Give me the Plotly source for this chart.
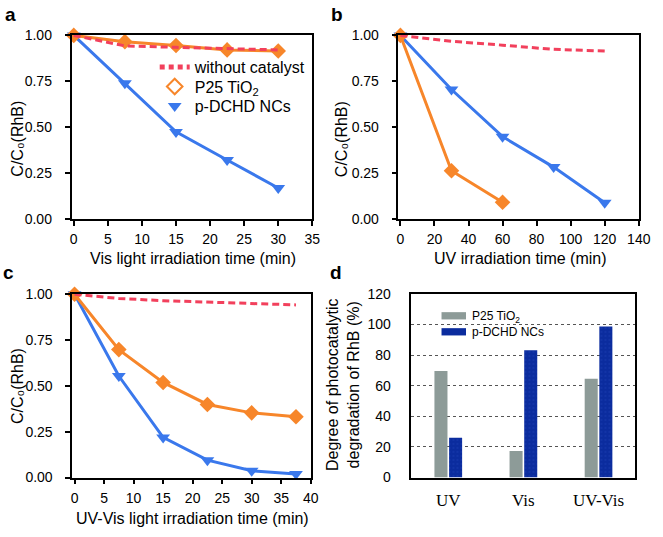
import plotly.graph_objects as go

W, H = 663, 537

# ---------------- data ----------------
t_a = [0, 7.5, 15, 22.5, 30]
a_blank = [1.0, 0.943, 0.935, 0.926, 0.921]
a_p25 = [1.0, 0.966, 0.945, 0.921, 0.915]
a_dchd = [1.0, 0.739, 0.474, 0.321, 0.168]

t_b = [0, 30, 60, 90, 120]
b_blank = [1.0, 0.968, 0.947, 0.924, 0.915]
t_b_p25 = [0, 30, 60]
b_p25 = [1.0, 0.262, 0.09]
b_dchd = [1.0, 0.705, 0.448, 0.282, 0.088]

t_c = [0, 7.5, 15, 22.5, 30, 37.5]
c_blank = [1.0, 0.977, 0.965, 0.956, 0.947, 0.942]
c_p25 = [1.0, 0.698, 0.519, 0.399, 0.353, 0.332]
c_dchd = [1.0, 0.554, 0.219, 0.095, 0.037, 0.019]

d_cats = ["UV", "Vis", "UV-Vis"]
d_p25 = [69.7, 17.3, 64.6]
d_dchd = [26.0, 83.2, 98.7]

# ---------------- styles ----------------
RED = "#f2405c"
ORANGE = "#f7862a"
BLUE = "#3a78ec"
GRAY = "#8d9b98"
NAVY = "#0b2c9e"
FONT = "Liberation Sans, Arial, sans-serif"

def px_x(p):
    return p / W

def px_y(p):
    return 1 - p / H

fig = go.Figure()

def add_lines(t_blank, blank, t_p, p25, t_d, dchd, xa, ya):
    fig.add_trace(go.Scatter(x=t_d, y=dchd, mode="lines+markers", xaxis=xa, yaxis=ya,
                             line=dict(color=BLUE, width=3),
                             marker=dict(symbol="triangle-down", size=12, color=BLUE),
                             showlegend=False, cliponaxis=False))
    fig.add_trace(go.Scatter(x=t_p, y=p25, mode="lines+markers", xaxis=xa, yaxis=ya,
                             line=dict(color=ORANGE, width=3),
                             marker=dict(symbol="diamond", size=12, color=ORANGE),
                             showlegend=False, cliponaxis=False))
    fig.add_trace(go.Scatter(x=t_blank, y=blank, mode="lines", xaxis=xa, yaxis=ya,
                             line=dict(color=RED, width=3, dash="7px,4px"),
                             showlegend=False, cliponaxis=False))

add_lines(t_a, a_blank, t_a, a_p25, t_a, a_dchd, "x", "y")
add_lines(t_b, b_blank, t_b_p25, b_p25, t_b, b_dchd, "x2", "y2")
add_lines(t_c, c_blank, t_c, c_p25, t_c, c_dchd, "x3", "y3")

# legend entries for panel a (one legend per entry for exact row spacing)
fig.add_trace(go.Scatter(x=[None], y=[None], mode="lines", name="without catalyst",
                         line=dict(color=RED, width=3, dash="5px,4px"), legend="legend"))
fig.add_trace(go.Scatter(x=[None], y=[None], mode="markers", name="P25 TiO<sub>2</sub>",
                         marker=dict(symbol="diamond-open", size=13, color=ORANGE,
                                     line=dict(width=3, color=ORANGE)), legend="legend2"))
fig.add_trace(go.Scatter(x=[None], y=[None], mode="markers", name="p-DCHD NCs",
                         marker=dict(symbol="triangle-down", size=13, color=BLUE), legend="legend3"))

# bars panel d
fig.add_trace(go.Bar(x=d_cats, y=d_p25, name="P25 TiO<sub>2</sub>", xaxis="x4", yaxis="y4",
                     marker=dict(color=GRAY, line=dict(width=0)), showlegend=False))
fig.add_trace(go.Bar(x=d_cats, y=d_dchd, name="p-DCHD NCs", xaxis="x4", yaxis="y4",
                     marker=dict(color=NAVY, line=dict(width=0),
                                 pattern=dict(shape=".", fgcolor="#2c52c8", size=4, solidity=0.12)),
                     showlegend=False))

axis_common = dict(showline=True, linecolor="black", linewidth=1.5, mirror=True,
                   ticks="outside", ticklen=5, tickwidth=1.5, tickcolor="black",
                   showgrid=False, zeroline=False,
                   tickfont=dict(family=FONT, size=14, color="black"))

yt = [0, 0.25, 0.5, 0.75, 1.0]
ytt = ["0.00", "0.25", "0.50", "0.75", "1.00"]

leg_common = dict(xanchor="left", yanchor="middle", bgcolor="rgba(0,0,0,0)",
                  font=dict(family=FONT, size=16, color="black"), itemsizing="constant")

fig.update_layout(
    width=W, height=H, margin=dict(l=0, r=0, t=0, b=0),
    paper_bgcolor="white", plot_bgcolor="white",
    font=dict(family=FONT, color="black"),
    xaxis=dict(axis_common, domain=[px_x(71), px_x(317)], range=[-0.33, 35],
               tickvals=[0, 5, 10, 15, 20, 25, 30, 35], anchor="y", ticklabelstandoff=2),
    yaxis=dict(axis_common, domain=[px_y(217.3), px_y(27.7)], range=[0, 1.003],
               tickvals=yt, ticktext=ytt, anchor="x", ticklabelstandoff=10),
    xaxis2=dict(axis_common, domain=[px_x(405), px_x(650.5)], range=[-1.15, 140],
                tickvals=[0, 20, 40, 60, 80, 100, 120, 140], anchor="y2", ticklabelstandoff=2),
    yaxis2=dict(axis_common, domain=[px_y(217.3), px_y(27.7)], range=[0, 1.003],
                tickvals=yt, ticktext=ytt, anchor="x2", ticklabelstandoff=10),
    xaxis3=dict(axis_common, domain=[px_x(71.7), px_x(316)], range=[-0.4, 40.1],
                tickvals=[0, 5, 10, 15, 20, 25, 30, 35, 40], anchor="y3", ticklabelstandoff=2),
    yaxis3=dict(axis_common, domain=[px_y(484), px_y(294.3)], range=[0, 1.004],
                tickvals=yt, ticktext=ytt, anchor="x3", ticklabelstandoff=10),
    xaxis4=dict(showline=True, linecolor="black", linewidth=1.5, mirror=True,
                ticks="", showgrid=False, zeroline=False,
                domain=[px_x(418.3), px_x(647)], range=[-0.49, 2.49], anchor="y4",
                tickfont=dict(family="Liberation Serif, Times New Roman, serif", size=17, color="black"),
                ticklabelstandoff=6),
    yaxis4=dict(showline=True, linecolor="black", linewidth=1.5, mirror=True,
                ticks="", showgrid=True, gridcolor="#555555", griddash="dot", gridwidth=1,
                zeroline=False, domain=[px_y(484), px_y(294.7)], range=[0, 120],
                tickvals=[0, 20, 40, 60, 80, 100, 120], anchor="x4",
                tickfont=dict(family=FONT, size=14, color="black"), ticklabelstandoff=16),
    bargap=0.61, bargroupgap=0.11, barmode="group",
    legend=dict(leg_common, x=px_x(156), y=px_y(61)),
    legend2=dict(leg_common, x=px_x(156), y=px_y(81)),
    legend3=dict(leg_common, x=px_x(156), y=px_y(101)),
)

annotations = []

def ann(text, x, y, size=16, angle=0, bold=False, xanchor="center"):
    annotations.append(dict(text=("<b>%s</b>" % text) if bold else text,
                            x=px_x(x), y=px_y(y), xref="paper", yref="paper",
                            showarrow=False, textangle=angle, xanchor=xanchor, yanchor="middle",
                            font=dict(family=FONT, size=size, color="black")))

# panel letters
ann("a", 9, 7, size=19, bold=True)
ann("b", 342, 7, size=19, bold=True)
ann("c", 7, 273, size=19, bold=True)
ann("d", 341, 273, size=19, bold=True)

# axis titles
ann("C/C₀(RhB)", 16, 135, angle=-90)
ann("C/C₀(RhB)", 347.5, 135, angle=-90)
ann("C/C₀(RhB)", 16, 390, angle=-90)
ann("Degree of photocatalytic<br>degradation of RhB (%)", 349, 388, angle=-90)
ann("Vis light irradiation time (min)", 195, 258)
ann("UV irradiation time (min)", 529, 258)
ann("UV-Vis light irradiation time (min)", 195, 526)

# legend for panel d (swatches + labels)
ann("P25 TiO<sub>2</sub>", 478, 318, size=12, xanchor="left")
ann("p-DCHD NCs", 478, 334, size=12, xanchor="left")
shapes = [
    dict(type="rect", xref="paper", yref="paper", x0=px_x(449), x1=px_x(474),
         y0=px_y(321), y1=px_y(313.5), fillcolor=GRAY, line=dict(width=0)),
    dict(type="rect", xref="paper", yref="paper", x0=px_x(449), x1=px_x(474),
         y0=px_y(337.5), y1=px_y(330), fillcolor=NAVY, line=dict(width=0)),
]

fig.update_layout(annotations=annotations, shapes=shapes)

fig.write_html("out.html", config={"displayModeBar": False},
               post_script="document.body.style.margin='0';document.body.style.overflow='hidden';")
